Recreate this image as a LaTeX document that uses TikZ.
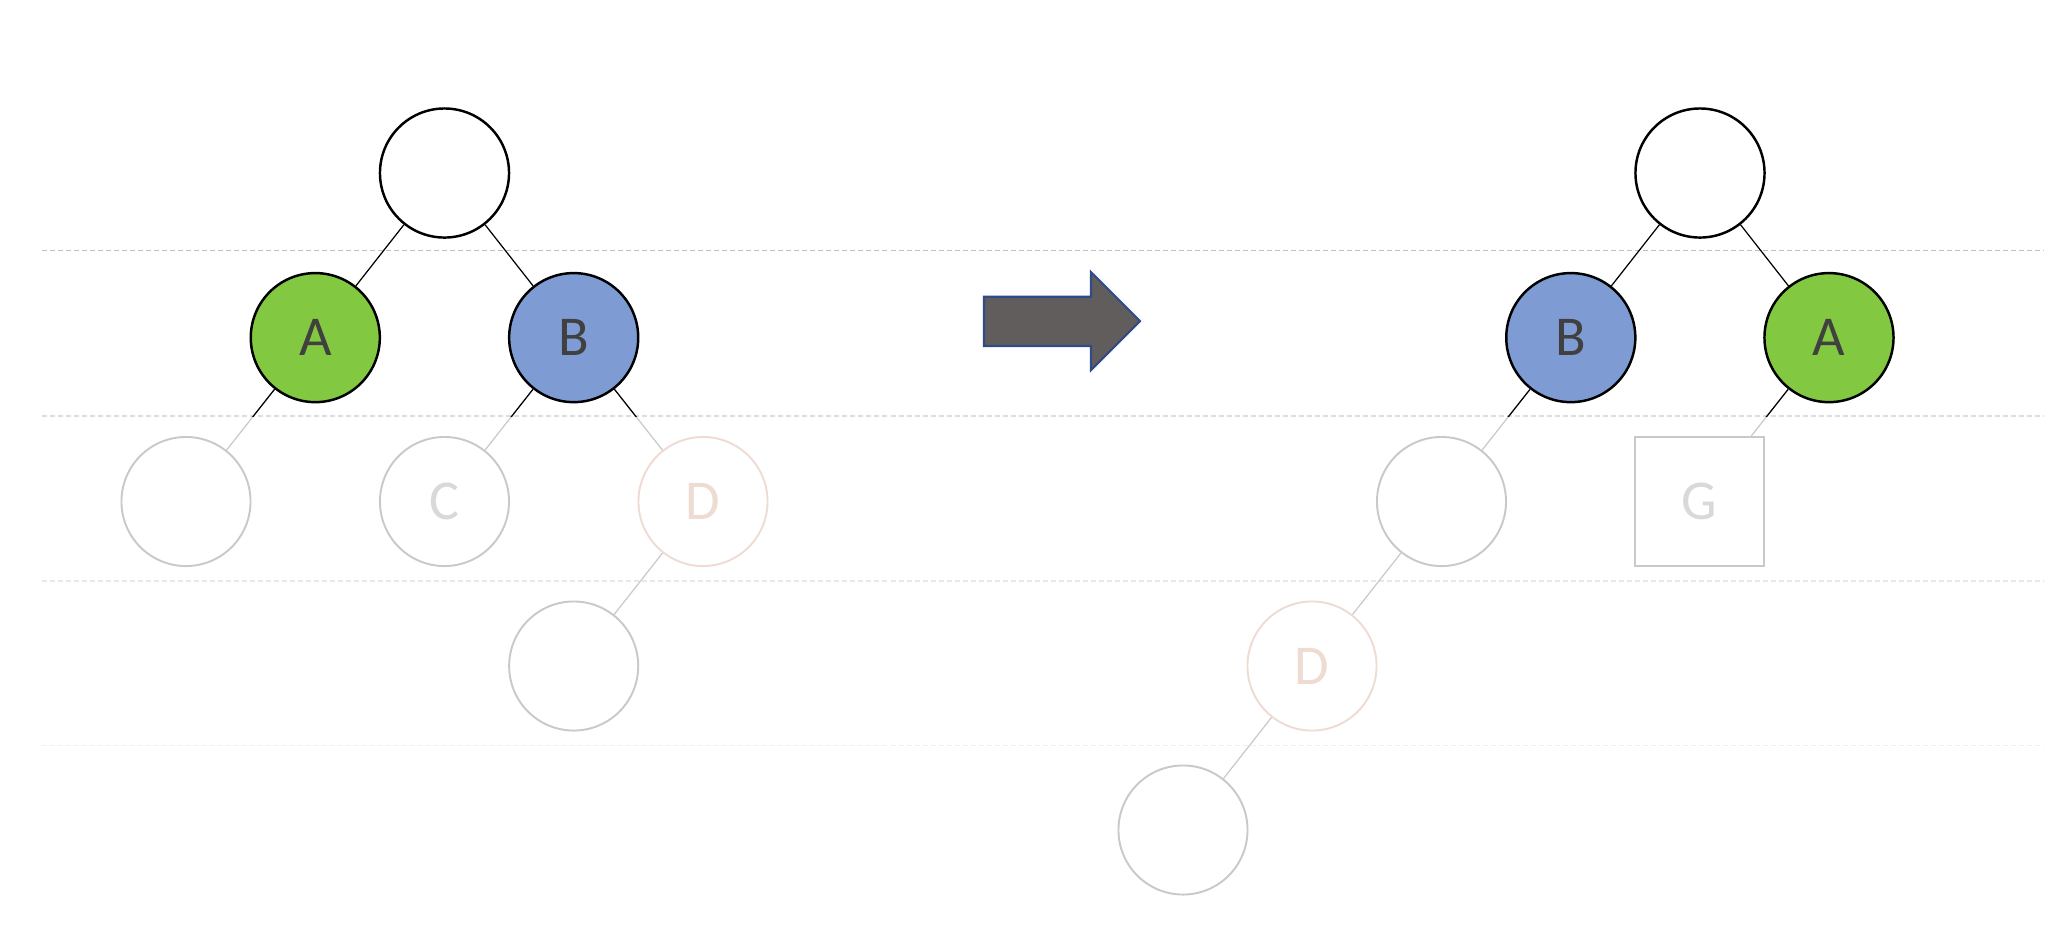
\documentclass[tikz,border=0pt]{standalone}
\usepackage{fontspec}
\setmainfont{Carlito}
\begin{document}
\begin{tikzpicture}[x=0.01cm,y=-0.01cm]
\definecolor{agreen}{HTML}{82C941}
\definecolor{bblue}{HTML}{7F9BD4}
\definecolor{txtgray}{HTML}{404040}
\definecolor{lgray}{HTML}{C9C9C9}
\definecolor{lgtxt}{HTML}{D9D9D9}
\definecolor{dpink}{HTML}{EEDCD3}
\definecolor{arrfill}{HTML}{625D5D}
\definecolor{arrline}{HTML}{2F4B88}
\tikzset{
  nd/.style={circle, minimum size=1.29cm, inner sep=0pt, font=\fontsize{16}{18}\selectfont, text=txtgray},
  solidnd/.style={nd, draw=black, line width=0.7pt},
  ghostnd/.style={nd, draw=lgray, line width=0.55pt, text=lgtxt},
  pinknd/.style={nd, draw=dpink, line width=0.55pt, text=dpink},
  sqnd/.style={rectangle, minimum size=1.29cm, inner sep=0pt, draw=lgray, line width=0.6pt, text=lgtxt, font=\fontsize{16}{18}\selectfont},
  darkedge/.style={draw=black, line width=0.35pt},
  lightedge/.style={draw=lgray, line width=0.35pt},
  level/.style={line width=0.3pt, dash pattern=on 0.05cm off 0.03cm},
  bigarrow/.style={fill=arrfill, draw=arrline, line width=0.6pt, line join=miter}
}
\useasboundingbox (0,0) rectangle (2068,944);
% level lines
\draw[level, draw=black!25] (42,250.6) coordinate (l1a) -- (2044,250.6) coordinate (l1b);
\draw[level, draw=black!13] (42,416) coordinate (l2a) -- (2044,416) coordinate (l2b);
\draw[level, draw=black!9] (42,581) coordinate (l3a) -- (2044,581) coordinate (l3b);
\draw[level, draw=black!6] (42,745.5) coordinate (l4a) -- (2044,745.5) coordinate (l4b);

% left tree
\node[solidnd] (Lr) at (444.5,173) {};
\node[solidnd, fill=agreen] (LA) at (315.3,337.6) {A};
\node[solidnd, fill=bblue] (LB) at (573.7,337.6) {B};
\node[ghostnd] (Le) at (186,501.5) {};
\node[ghostnd] (LC) at (444.5,501.5) {C};
\node[pinknd] (LD) at (703,501.5) {D};
\node[ghostnd] (Lf) at (573.7,666) {};

% right tree
\node[solidnd] (Rr) at (1700,173) {};
\node[solidnd, fill=bblue] (RB) at (1570.8,337.6) {B};
\node[solidnd, fill=agreen] (RA) at (1829,337.6) {A};
\node[ghostnd] (Re) at (1441.5,501.5) {};
\node[sqnd] (RG) at (1699.5,501.5) {G};
\node[pinknd] (RD) at (1312,666) {D};
\node[ghostnd] (Rf) at (1183,830) {};

% edges (light full length)
\foreach \a/\b in {LA/Le, LB/LC, LB/LD, LD/Lf, RB/Re, RA/RG, Re/RD, RD/Rf}
  \draw[lightedge] (\a) -- (\b);
% dark portion above level line 2
\begin{scope}
  \clip (0,0) rectangle (2068,416);
  \foreach \a/\b in {Lr/LA, Lr/LB, LA/Le, LB/LC, LB/LD, Rr/RB, Rr/RA, RB/Re, RA/RG}
    \draw[darkedge] (\a) -- (\b);
\end{scope}

% big arrow
\draw[bigarrow] (984,296.7) coordinate (a1) -- (1091,296.7) -- (1091,272) -- (1140,321) coordinate (atip) -- (1091,370) -- (1091,346) -- (984,346) -- cycle;
\end{tikzpicture}
\end{document}
